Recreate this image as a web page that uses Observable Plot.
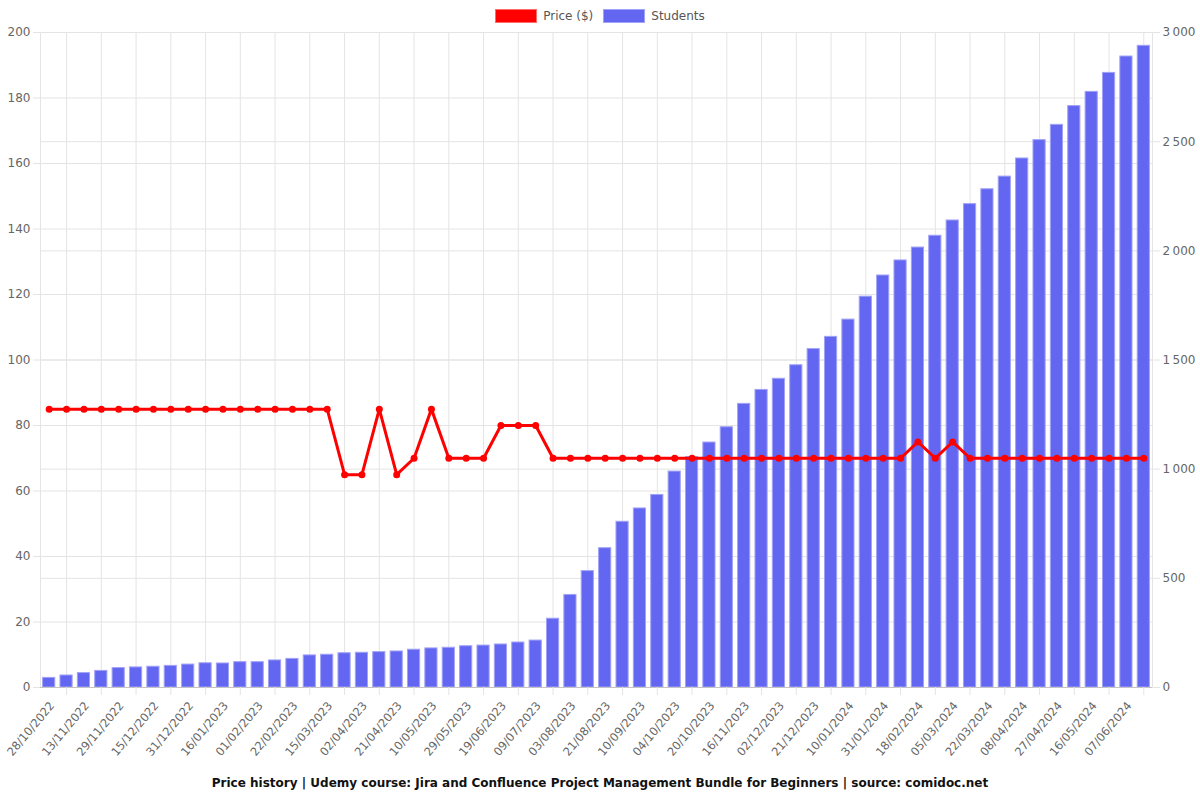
<!DOCTYPE html>
<html>
<head>
<meta charset="utf-8">
<script src="https://cdn.jsdelivr.net/npm/d3@7"></script>
<script src="https://cdn.jsdelivr.net/npm/@observablehq/plot@0.6"></script>
<style>
  html, body { margin: 0; padding: 0; background: #fff; }
  #wrap { position: relative; width: 1200px; height: 800px; font-family: "DejaVu Sans", sans-serif; }
  #legend { position: absolute; top: 9px; left: 0; width: 1200px; display: flex; justify-content: center; gap: 10px; font-size: 12px; color: #555; }
  .item { display: flex; align-items: center; }
  .sw { display: inline-block; width: 42px; height: 14px; margin-right: 6px; box-sizing: border-box; }
  #caption { position: absolute; top: 776px; left: 0; width: 1200px; text-align: center; font-size: 12px; font-weight: bold; color: #111; }
</style>
</head>
<body>
<div id="wrap">
  <div id="chart"></div>
  <div id="legend">
    <div class="item"><span class="sw" style="background:#ff0000;border:1px solid #ff6b6b"></span>Price ($)</div>
    <div class="item"><span class="sw" style="background:#6366f1;border:1px solid #a0a2f7"></span>Students</div>
  </div>
  <div id="caption">Price history | Udemy course: Jira and Confluence Project Management Bundle for Beginners | source: comidoc.net</div>
</div>
<script>
const dates = [
  "28/10/2022","05/11/2022","13/11/2022","21/11/2022","29/11/2022","07/12/2022","15/12/2022","23/12/2022",
  "31/12/2022","08/01/2023","16/01/2023","24/01/2023","01/02/2023","11/02/2023","22/02/2023","04/03/2023",
  "15/03/2023","24/03/2023","02/04/2023","12/04/2023","21/04/2023","30/04/2023","10/05/2023","19/05/2023",
  "29/05/2023","08/06/2023","19/06/2023","29/06/2023","09/07/2023","21/07/2023","03/08/2023","12/08/2023",
  "21/08/2023","31/08/2023","10/09/2023","22/09/2023","04/10/2023","12/10/2023","20/10/2023","03/11/2023",
  "16/11/2023","24/11/2023","02/12/2023","11/12/2023","21/12/2023","31/12/2023","10/01/2024","20/01/2024",
  "31/01/2024","09/02/2024","18/02/2024","26/02/2024","05/03/2024","13/03/2024","22/03/2024","30/03/2024",
  "08/04/2024","17/04/2024","27/04/2024","06/05/2024","16/05/2024","27/05/2024","07/06/2024","17/06/2024"
];
const students = [
  44, 55, 66, 76, 89, 92, 95, 99,
  105, 111, 110, 116, 116, 124, 131, 147,
  150, 157, 159, 162, 165, 173, 179, 182,
  189, 192, 197, 206, 215, 315, 424, 533,
  638, 759, 820, 882, 989, 1055, 1122, 1192,
  1299, 1363, 1414, 1476, 1550, 1606, 1685, 1790,
  1887, 1956, 2015, 2069, 2139, 2214, 2282, 2340,
  2423, 2507, 2577, 2663, 2728, 2815, 2890, 2939
];
const prices = [
  85, 85, 85, 85, 85, 85, 85, 85,
  85, 85, 85, 85, 85, 85, 85, 85,
  85, 65, 65, 85, 65, 70, 85, 70,
  70, 70, 80, 80, 80, 70, 70, 70,
  70, 70, 70, 70, 70, 70, 70, 70,
  70, 70, 70, 70, 70, 70, 70, 70,
  70, 70, 75, 70, 75, 70, 70, 70,
  70, 70, 70, 70, 70, 70, 70, 70
];
const priceTicks = [0, 20, 40, 60, 80, 100, 120, 140, 160, 180, 200];
const studentTicks = [0, 500, 1000, 1500, 2000, 2500, 3000];

const ratio = 3000 / 200;
const data = dates.map((d, i) => ({date: d, students: students[i], price: prices[i]}));
const labelDates = dates.filter((d, i) => i % 2 === 0);
const gridDates = dates.filter((d, i) => i % 2 === 1);
const fmt = v => String(v).replace(/\B(?=(\d{3})+(?!\d))/g, "\u202F");
const gridColor = "#e4e4e4";

const chart = Plot.plot({
  width: 1200,
  height: 800,
  marginTop: 32,
  marginRight: 48,
  marginBottom: 113,
  marginLeft: 40,
  style: {fontFamily: "DejaVu Sans, sans-serif", fontSize: "12px", color: "#666", background: "transparent"},
  x: {type: "band", domain: dates, paddingInner: 0.3, paddingOuter: 0.15, round: false},
  y: {domain: [0, 200]},
  marks: [
    Plot.frame({stroke: gridColor}),
    Plot.ruleY(priceTicks, {stroke: gridColor}),
    Plot.ruleY(studentTicks.map(v => v / ratio), {stroke: gridColor}),
    Plot.ruleX(gridDates, {stroke: gridColor}),
    Plot.barY(data, {x: "date", y: d => d.students / ratio, fill: "#6366f1", stroke: "#a0a2f7", strokeWidth: 1}),
    Plot.ruleY([0], {stroke: "#c4c4c4"}),
    Plot.line(data, {x: "date", y: "price", stroke: "#ff0000", strokeWidth: 3}),
    Plot.dot(data, {x: "date", y: "price", r: 3.5, fill: "#ff0000"}),
    Plot.axisY({anchor: "left", ticks: priceTicks, tickSize: 7, tickPadding: 3, stroke: gridColor, fill: "#666", label: null}),
    Plot.axisY({anchor: "right", ticks: studentTicks.map(v => v / ratio), tickFormat: v => fmt(Math.round(v * ratio)), tickSize: 7, tickPadding: 3, stroke: gridColor, fill: "#666", label: null}),
    Plot.axisX({ticks: gridDates, tickSize: 8, tickFormat: () => "", stroke: gridColor, label: null}),
    Plot.axisX({ticks: labelDates, tickSize: 0, tickPadding: 16, tickRotate: -50, dx: 3, fontSize: 11.5, fill: "#666", label: null})
  ]
});
document.getElementById("chart").appendChild(chart);
</script>
</body>
</html>
